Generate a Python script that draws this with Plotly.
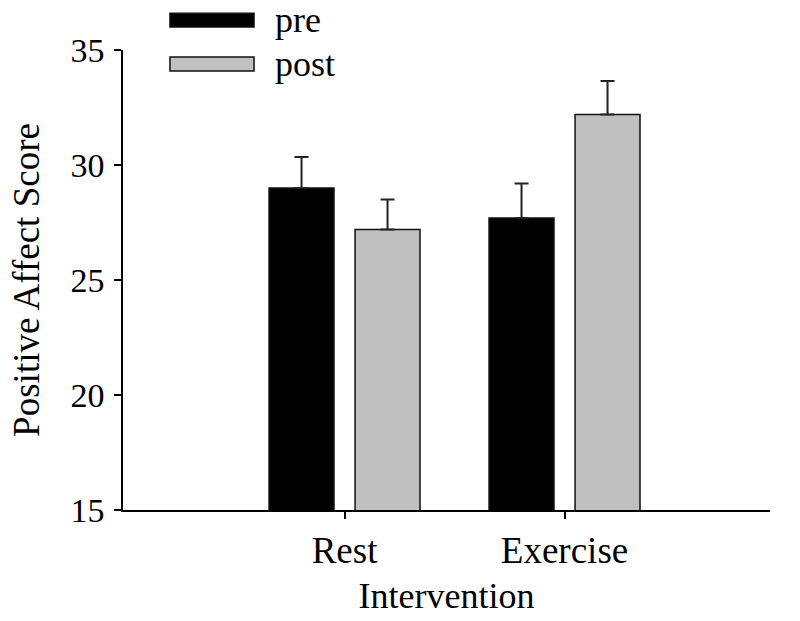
import plotly.graph_objects as go

categories = ["Rest", "Exercise"]
series_names = ["pre", "post"]
pre_values = [29.0, 27.7]
pre_errors = [1.35, 1.5]
post_values = [27.2, 32.2]
post_errors = [1.3, 1.45]
y_ticks = [15, 20, 25, 30, 35]

colors = ["#000000", "#c0c0c0"]
FONT = "Liberation Serif, Times New Roman, serif"

x_pos = list(range(len(categories)))

fig = go.Figure()
for name, vals, errs, col in [
    (series_names[0], pre_values, pre_errors, colors[0]),
    (series_names[1], post_values, post_errors, colors[1]),
]:
    fig.add_trace(go.Bar(
        x=x_pos, y=vals, name=name,
        marker=dict(color=col, line=dict(color="#111111", width=1.5)),
        error_y=dict(type="data", array=errs, arrayminus=[0] * len(errs),
                     symmetric=False, color="#222222", thickness=2, width=7),
        showlegend=False,
    ))

# legend drawn as wide swatches + labels (paper coordinates)
legend_rows = [(1.080, 1.0498, 1.0649), (0.985, 0.9545, 0.9697)]
for (y0, y1, ty), name, col in zip(legend_rows, series_names, colors):
    fig.add_shape(type="rect", xref="paper", yref="paper",
                  x0=0.0726, x1=0.2025, y0=y1, y1=y0,
                  fillcolor=col, line=dict(color="#111111", width=1.5))
    fig.add_annotation(xref="paper", yref="paper", x=0.232, y=ty,
                       text=name, showarrow=False, xanchor="left", yanchor="middle",
                       font=dict(family=FONT, size=36, color="black"))

fig.update_layout(
    width=800, height=621,
    margin=dict(l=123, r=30, t=50, b=109),
    plot_bgcolor="white", paper_bgcolor="white",
    barmode="group", bargap=0.218, bargroupgap=0.245,
    font=dict(family=FONT, color="black"),
    xaxis=dict(
        range=[-1.007, 1.934], tickmode="array", tickvals=x_pos, ticktext=categories,
        showline=True, linecolor="black", linewidth=1.5,
        ticks="outside", ticklen=7, tickwidth=1.5, tickcolor="black",
        showgrid=False, zeroline=False,
        tickfont=dict(family=FONT, size=37),
        title=dict(text="Intervention", font=dict(family=FONT, size=36), standoff=13),
    ),
    yaxis=dict(
        range=[15, 35], tickmode="array", tickvals=y_ticks,
        showline=True, linecolor="black", linewidth=1.5,
        ticks="outside", ticklen=7, tickwidth=1.5, tickcolor="black",
        ticklabelstandoff=3,
        showgrid=False, zeroline=False,
        tickfont=dict(family=FONT, size=34),
        title=dict(text="Positive Affect Score", font=dict(family=FONT, size=37), standoff=20),
    ),
)

fig.write_html("out.html", config={"displayModeBar": False},
               post_script="document.body.style.margin='0';")
